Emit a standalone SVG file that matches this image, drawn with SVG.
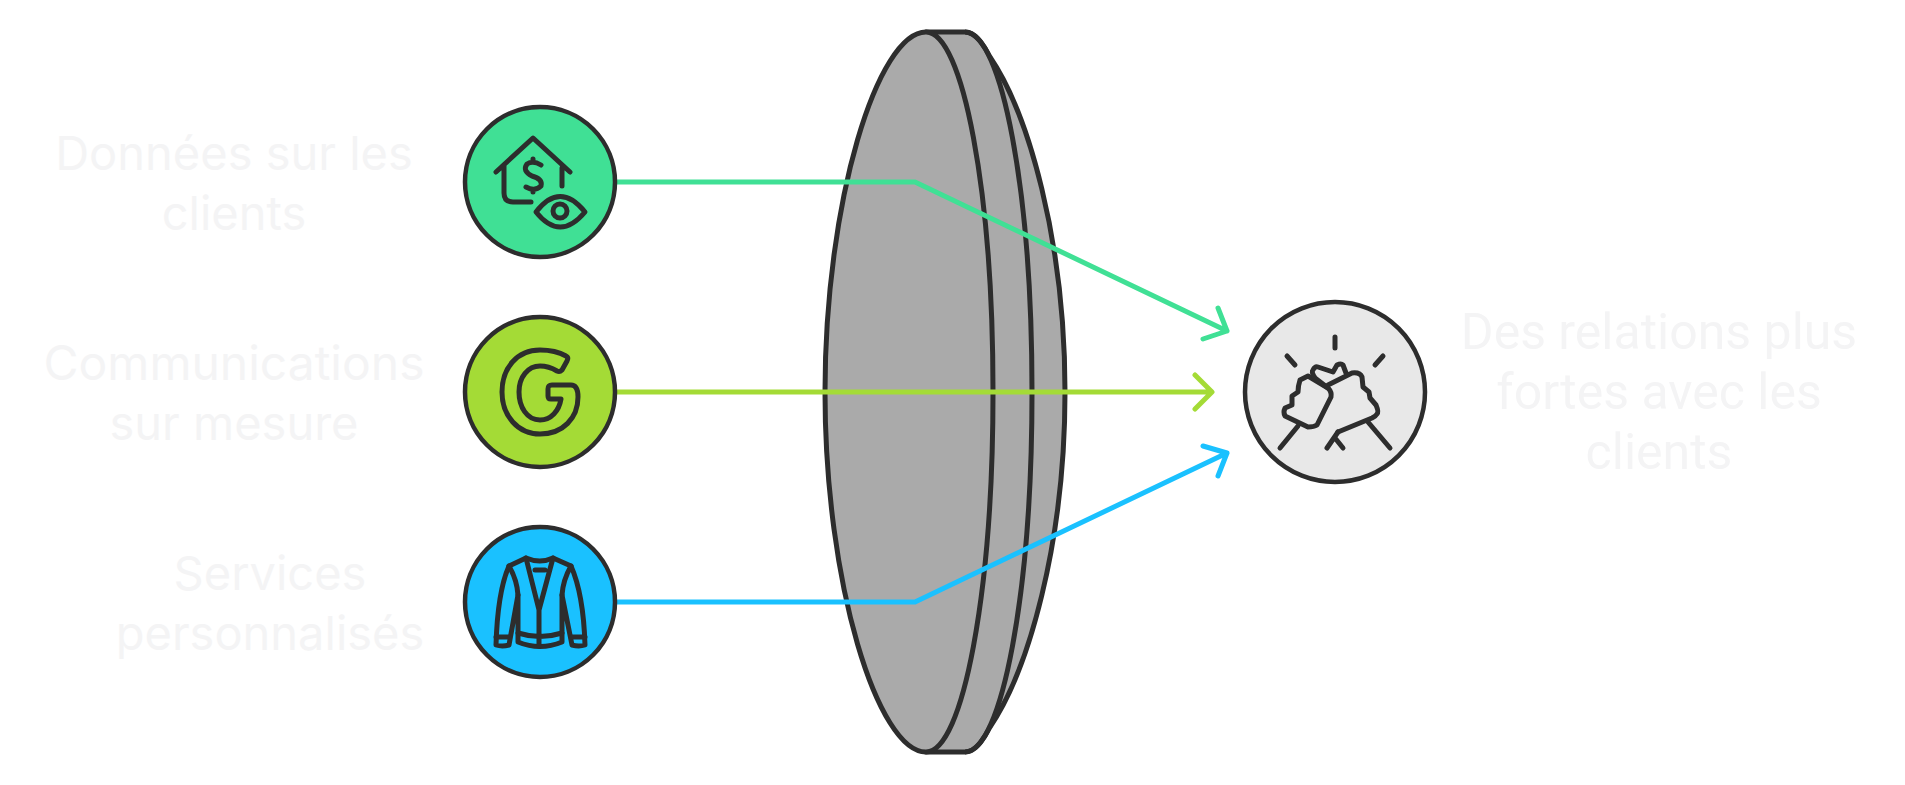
<svg xmlns="http://www.w3.org/2000/svg" width="1905" height="785" viewBox="0 0 1905 785">
<style>
.ink{fill:none;stroke:#2d2d2d;stroke-width:5;stroke-linecap:round;stroke-linejoin:round}
.disc{stroke:#2d2d2d;stroke-width:4.5}
.lens{fill:#aaaaaa;stroke:#2d2d2d;stroke-width:5;stroke-linejoin:round}
.edge{fill:none;stroke:#2d2d2d;stroke-width:5;stroke-linejoin:round}
.wire{fill:none;stroke-width:5;stroke-linecap:round;stroke-linejoin:round}
.lab{fill:#f4f4f5;text-anchor:middle}
.inter{font:47px Inter,"Liberation Sans",sans-serif}
.wide{font-size:48px}
.rob{font:50px Roboto,"Liberation Sans",sans-serif}
</style>
<rect width="1905" height="785" fill="#ffffff"/>
<g id="lens">
<path class="lens" d="M926 32H965C970 32 975 35 980 41C984 46 987 51 990 57C1028 113 1065 240 1065 392S1028 671 990 727C987 733 984 738 980 743C975 749 970 752 965 752H926Z"/>
<path class="edge" d="M965 32C1002 32 1032 193 1032 392S1002 752 965 752"/>
<path class="lens" d="M926 32C878 32 825 200 825 392S878 752 926 752C963 752 993 591 993 392S963 32 926 32Z"/>
</g>
<g id="connectors">
<path class="wire" stroke="#40e095" d="M617 182H915L1227 331M1218 308L1227 331L1203 339"/>
<path class="wire" stroke="#a4db36" d="M617 392H1211M1195 375L1212 392L1195 409"/>
<path class="wire" stroke="#1ac1ff" d="M617 602H915L1227 453M1203 446L1227 453L1218 476"/>
</g>
<g id="node-data">
<circle class="disc" cx="540" cy="182" r="75" fill="#40e095"/>
<path class="ink" d="M496 172L533 138L570 172M504 166V193Q504 202 513 202H531M562 168V186"/>
<path class="ink" d="M541 165Q533 160 527 164Q522 171 532 176Q543 179 541 186Q535 192 526 187M533 159V161M533 190V192"/>
<path class="ink" d="M536 212Q560 181 585 212Q560 242 536 212Z"/>
<circle class="ink" cx="560" cy="211" r="7"/>
</g>
<g id="node-message">
<circle class="disc" cx="540" cy="392" r="75" fill="#a4db36"/>
<path class="ink" d="M566 356C559 352 550 350 540 350C517 350 502 368 502 392C502 416 518 434 540 434C563 434 578 418 578 397C578 389 576 385 571 385H552C549 385 548 386 548 389V396C548 398 549 399 551 399H561C559 411 551 420 540 420C527 420 519 407 519 392C519 377 528 366 540 366C547 366 552 368 557 371C559 372 561 371 562 370L567 361C568 359 568 357 566 356Z"/>
</g>
<g id="node-service">
<circle class="disc" cx="540" cy="602" r="75" fill="#1ac1ff"/>
<path class="ink" d="M526 558Q540 564 553 558L571 566C579 584 584 612 585 645Q579 647 572 645L562 595V642Q540 651 518 642V595L509 645Q502 647 496 645C497 612 501 584 509 566Z"/>
<path class="ink" d="M526 558L539 610L553 558M539 610V646M518 633Q540 640 562 633M509 566Q517 580 518 595M571 566Q563 580 562 595M496 637H509M572 637H585M535 570H545"/>
<path d="M518 592V616L513 616Z M562 592V616L567 616Z" fill="#2d2d2d"/>
</g>
<g id="node-result">
<circle class="disc" cx="1335" cy="392" r="90" fill="#e8e8e8"/>
<path class="ink" d="M1335 337V348M1287 356L1295 365M1383 356L1375 365"/>
<path class="ink" d="M1280 448L1298 426M1390 448L1368 422M1327 448L1338 432M1335 438L1343 448"/>
<path class="ink" d="M1308 376L1300 380Q1298 386 1298 392L1292 396V405L1285 408Q1283 412 1285 416L1308 427Q1314 427 1317 425L1331 397Q1332 392 1328 388Z"/>
<path class="ink" d="M1328 388L1315 378Q1311 372 1313 370Q1315 366 1318 367L1333 372L1337 365Q1341 363 1343 365L1346 373M1328 385L1352 373Q1360 372 1362 377L1363 387L1369 392L1370 398L1376 405Q1379 412 1377 414Q1376 416 1372 418L1338 432"/>
</g>
<g id="labels">
<text class="lab inter" x="234" y="170">Données sur les</text>
<text class="lab inter" x="234" y="230">clients</text>
<text class="lab inter wide" x="234" y="380">Communications</text>
<text class="lab inter" x="234" y="440">sur mesure</text>
<text class="lab inter" x="270" y="590">Services</text>
<text class="lab inter" x="270" y="650">personnalisés</text>
<text class="lab rob" x="1659" y="349">Des relations plus</text>
<text class="lab rob" x="1659" y="409">fortes avec les</text>
<text class="lab rob" x="1659" y="469">clients</text>
</g>
</svg>
